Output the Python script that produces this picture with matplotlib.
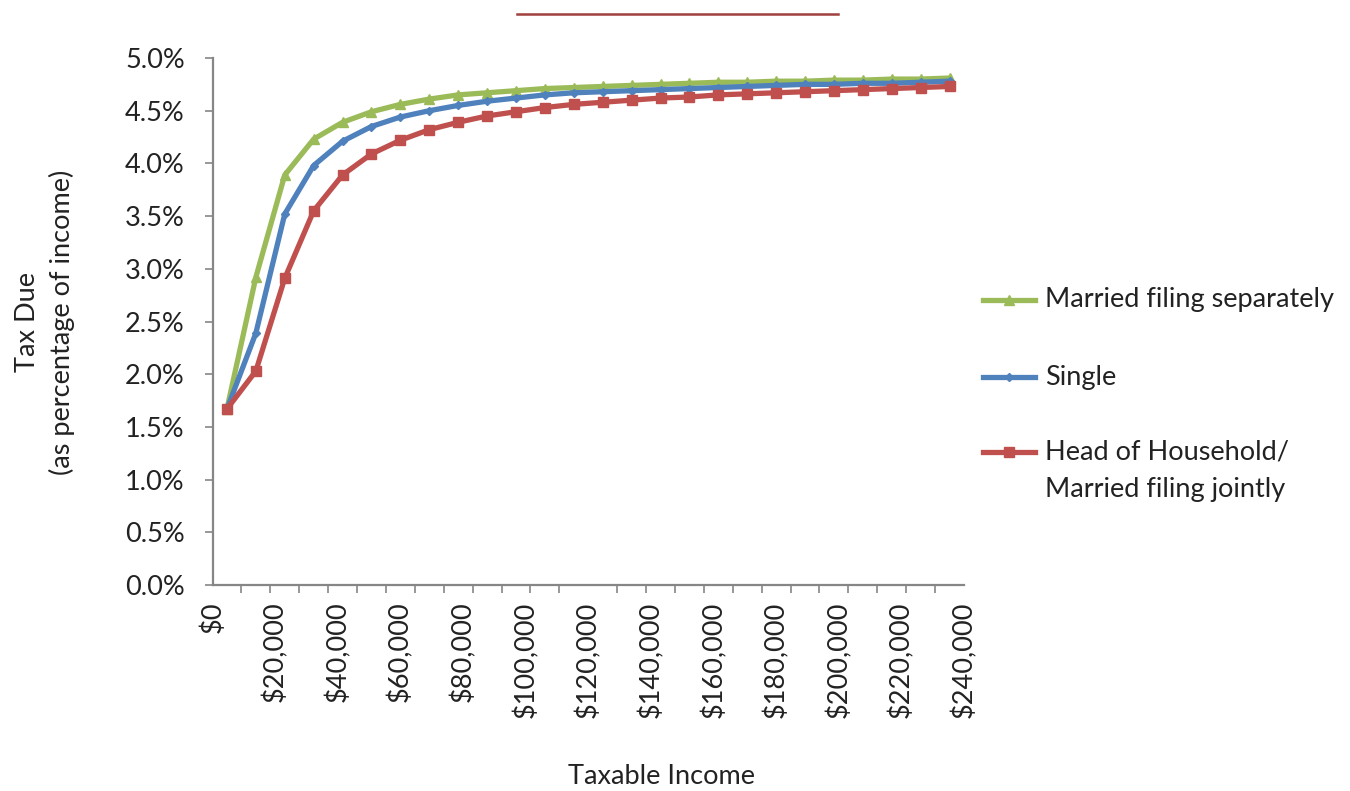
import matplotlib.pyplot as plt
import numpy as np
from matplotlib.lines import Line2D

plt.rcParams['font.family'] = ['Lato', 'DejaVu Sans']

# 26 income brackets along the category axis, tax due as % of income
married_sep = [1.67, 2.92, 3.89, 4.23, 4.39, 4.49, 4.56, 4.61, 4.65, 4.67,
               4.69, 4.71, 4.72, 4.73, 4.74, 4.75, 4.76, 4.77, 4.77, 4.78,
               4.78, 4.79, 4.79, 4.80, 4.80, 4.81]
single = [1.67, 2.39, 3.52, 3.98, 4.21, 4.35, 4.44, 4.50, 4.55, 4.59,
          4.62, 4.65, 4.67, 4.68, 4.69, 4.70, 4.71, 4.72, 4.73, 4.74,
          4.75, 4.75, 4.76, 4.76, 4.77, 4.78]
head_joint = [1.67, 2.03, 2.91, 3.55, 3.89, 4.09, 4.22, 4.32, 4.39, 4.45,
              4.49, 4.53, 4.56, 4.58, 4.60, 4.62, 4.63, 4.65, 4.66, 4.67,
              4.68, 4.69, 4.70, 4.71, 4.72, 4.73]
tick_dollars = [0, 20000, 40000, 60000, 80000, 100000, 120000, 140000,
                160000, 180000, 200000, 220000, 240000]
max_dollars = 240000
series_names = ['Married filing separately', 'Single', 'Head of Household/\nMarried filing jointly']

green = '#9BBB59'
blue = '#4F81BD'
red = '#C0504D'
grey = '#868686'
txt = '#222222'
fs = 19.5

n = len(single)
x = np.arange(n) + 0.5

fig = plt.figure(figsize=(13.5, 7.91), dpi=100)
ax = fig.add_axes([212.5 / 1350, 1 - 585 / 791, (964 - 212.5) / 1350, (585 - 58) / 791])

styles = [(married_sep, green, '^', 6.5), (single, blue, 'D', 4.5), (head_joint, red, 's', 7)]
for vals, c, m, ms in styles:
    ax.plot(x, np.array(vals) / 100, color=c, lw=3.8, marker=m, ms=ms)

ax.set_xlim(0, n)
ax.set_ylim(0, 0.05)
yt = np.arange(0, 0.0501, 0.005)
ax.set_yticks(yt)
ax.set_yticklabels([f'{v * 100:.1f}%' for v in yt])

ax.set_xticks(np.arange(n + 1), minor=True)
ax.set_xticks([d / max_dollars * n for d in tick_dollars])
ax.set_xticklabels([f'${d:,}' for d in tick_dollars], rotation=90)
ax.tick_params(axis='x', which='major', length=0, pad=12)
ax.tick_params(axis='x', which='minor', length=6, color=grey, width=1.2)
ax.tick_params(axis='y', length=6, color=grey, width=1.2, pad=14)
ax.tick_params(labelsize=fs, labelcolor=txt)

for s in ['top', 'right']:
    ax.spines[s].set_visible(False)
for s in ['left', 'bottom']:
    ax.spines[s].set_color(grey)
    ax.spines[s].set_linewidth(1.6)

fig.text(45 / 1350, 1 - 322 / 791, 'Tax Due\n(as percentage of income)', rotation=90,
         ha='center', va='center', fontsize=fs, color=txt, linespacing=1.45)
fig.text(661 / 1350, 1 - 776 / 791, 'Taxable Income', ha='center', va='center',
         fontsize=fs, color=txt)

# legend drawn by hand so the two-line entry keeps its marker on the first line
leg_y = [300, 377, 452]
for (vals, c, m, ms), name, yy in zip(styles, series_names, leg_y):
    yf = 1 - yy / 791
    fig.add_artist(Line2D([983 / 1350, 1035 / 1350], [yf, yf], color=c, lw=3.8))
    fig.add_artist(Line2D([1009 / 1350], [yf], color=c, marker=m, ms=ms, lw=0))
    for k, line in enumerate(name.split('\n')):
        fig.text(1045 / 1350, 1 - (yy + 38 * k) / 791, line, ha='left', va='center',
                 fontsize=fs, color=txt)

# decorative rule at the top
fig.add_artist(Line2D([517 / 1350, 838 / 1350], [1 - 14 / 791, 1 - 14 / 791],
                      color='#A0403F', lw=1.8))

fig.savefig('out.png', dpi=100)
